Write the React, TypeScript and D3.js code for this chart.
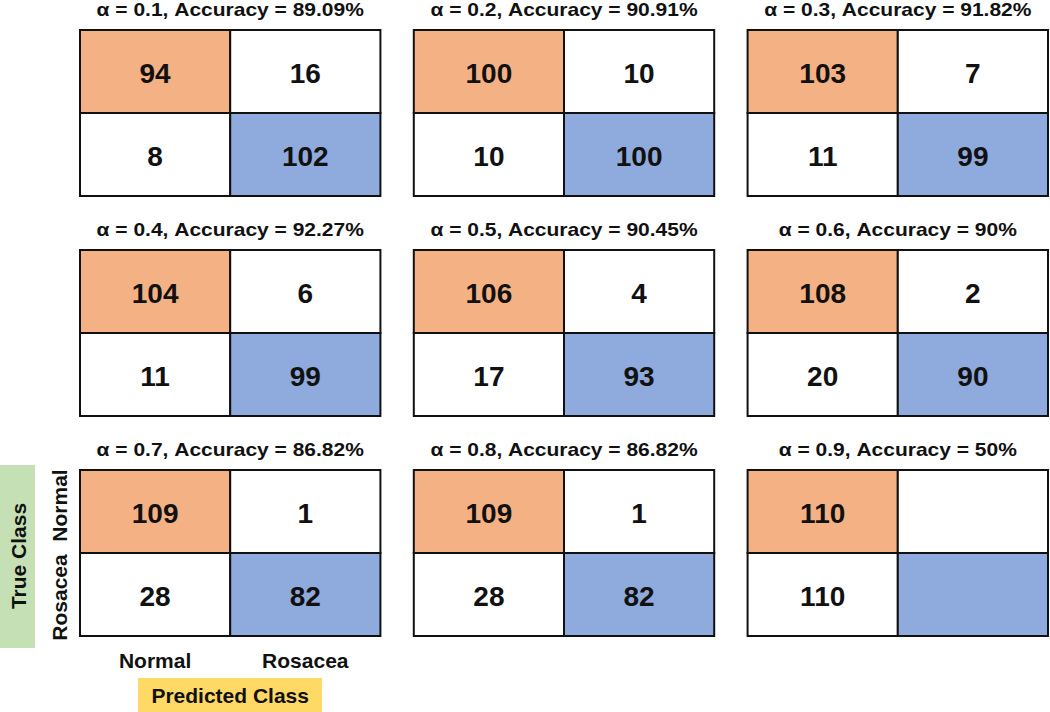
import * as d3 from "d3";
import { useEffect, useRef } from "react";

// one panel per alpha, read row by row
const alphas = ["0.1", "0.2", "0.3", "0.4", "0.5", "0.6", "0.7", "0.8", "0.9"];
const accuracies = ["89.09%", "90.91%", "91.82%", "92.27%", "90.45%", "90%", "86.82%", "86.82%", "50%"];
const classes = ["Normal", "Rosacea"];

// true class -> predicted class counts (0 is left blank, as in the original)
const normalAsNormal = [94, 100, 103, 104, 106, 108, 109, 109, 110];
const normalAsRosacea = [16, 10, 7, 6, 4, 2, 1, 1, 0];
const rosaceaAsNormal = [8, 10, 11, 11, 17, 20, 28, 28, 110];
const rosaceaAsRosacea = [102, 100, 99, 99, 93, 90, 82, 82, 0];

const width = 1050;
const height = 712;
const font = "'Liberation Sans', Arial, sans-serif";
const orange = "#F4B183";
const blue = "#8FAADC";

export default function App() {
  const svgRef = useRef<SVGSVGElement>(null);

  useEffect(() => {
    if (!svgRef.current) return;
    const svg = d3.select(svgRef.current);
    svg.selectAll("*").remove();

    const col = d3.scaleBand<number>().domain([0, 1, 2]).range([80, 1048]).paddingInner(0.1);
    const row = d3.scaleBand<number>().domain([0, 1, 2]).range([30, 636]).paddingInner(0.2455);

    const panels = alphas.map((a, i) => ({
      i,
      title: `α = ${a}, Accuracy = ${accuracies[i]}`,
      cells: [
        { t: "Normal", p: "Normal", v: normalAsNormal[i], fill: orange },
        { t: "Normal", p: "Rosacea", v: normalAsRosacea[i], fill: "#fff" },
        { t: "Rosacea", p: "Normal", v: rosaceaAsNormal[i], fill: "#fff" },
        { t: "Rosacea", p: "Rosacea", v: rosaceaAsRosacea[i], fill: blue },
      ],
    }));

    const cx = d3.scaleBand<string>().domain(classes).range([0, col.bandwidth()]);
    const cy = d3.scaleBand<string>().domain(classes).range([0, row.bandwidth()]);

    const g = svg.selectAll("g.panel")
      .data(panels)
      .enter()
      .append("g")
      .attr("class", "panel")
      .attr("transform", d => `translate(${col(d.i % 3)},${row(Math.floor(d.i / 3))})`);

    g.append("text")
      .attr("transform", `translate(${col.bandwidth() / 2},-14) scale(1.2,1)`)
      .attr("text-anchor", "middle")
      .attr("font-family", font)
      .attr("font-weight", "bold")
      .attr("font-size", 17.5)
      .attr("fill", "#111")
      .text(d => d.title);

    const cell = g.selectAll("g.cell")
      .data(d => d.cells)
      .enter()
      .append("g")
      .attr("class", "cell");

    cell.append("rect")
      .attr("x", d => cx(d.p)!)
      .attr("y", d => cy(d.t)!)
      .attr("width", cx.bandwidth())
      .attr("height", cy.bandwidth())
      .attr("fill", d => d.fill)
      .attr("stroke", "#111")
      .attr("stroke-width", 2);

    cell.append("text")
      .attr("x", d => cx(d.p)! + cx.bandwidth() / 2)
      .attr("y", d => cy(d.t)! + cy.bandwidth() / 2)
      .attr("dy", "0.4em")
      .attr("text-anchor", "middle")
      .attr("font-family", font)
      .attr("font-weight", "bold")
      .attr("font-size", 28)
      .attr("fill", "#111")
      .text(d => (d.v === 0 ? "" : String(d.v)));

    // axis labels around the bottom-left panel
    const x0 = col(0)!;
    const y0 = row(2)!;

    svg.append("rect")
      .attr("x", 0).attr("y", 465).attr("width", 35).attr("height", 183)
      .attr("fill", "#C5E0B4");
    svg.append("text")
      .attr("transform", `translate(18,556) rotate(-90)`)
      .attr("dy", "0.36em")
      .attr("text-anchor", "middle")
      .attr("font-family", font).attr("font-weight", "bold").attr("font-size", 21)
      .attr("fill", "#111")
      .text("True Class");

    // the two row labels sit a little apart from the cell centres
    const yShift: Record<string, number> = { Normal: -6, Rosacea: 3 };
    svg.selectAll("text.ylab")
      .data(classes)
      .enter()
      .append("text")
      .attr("class", "ylab")
      .attr("transform", d => `translate(59,${y0 + cy(d)! + cy.bandwidth() / 2 + yShift[d]}) rotate(-90)`)
      .attr("dy", "0.36em")
      .attr("text-anchor", "middle")
      .attr("font-family", font).attr("font-weight", "bold").attr("font-size", 21)
      .attr("fill", "#111")
      .text(d => d);

    svg.selectAll("text.xlab")
      .data(classes)
      .enter()
      .append("text")
      .attr("class", "xlab")
      .attr("x", d => x0 + cx(d)! + cx.bandwidth() / 2)
      .attr("y", 660)
      .attr("dy", "0.36em")
      .attr("text-anchor", "middle")
      .attr("font-family", font).attr("font-weight", "bold").attr("font-size", 21)
      .attr("fill", "#111")
      .text(d => d);

    svg.append("rect")
      .attr("x", 138).attr("y", 678).attr("width", 184).attr("height", 34)
      .attr("fill", "#FFD966");
    svg.append("text")
      .attr("x", x0 + col.bandwidth() / 2)
      .attr("y", 695)
      .attr("dy", "0.36em")
      .attr("text-anchor", "middle")
      .attr("font-family", font).attr("font-weight", "bold").attr("font-size", 21)
      .attr("fill", "#111")
      .text("Predicted Class");
  }, []);

  return (
    <svg
      ref={svgRef}
      width={width}
      height={height}
      style={{ position: "absolute", left: 0, top: 0, background: "#fff" }}
    />
  );
}
